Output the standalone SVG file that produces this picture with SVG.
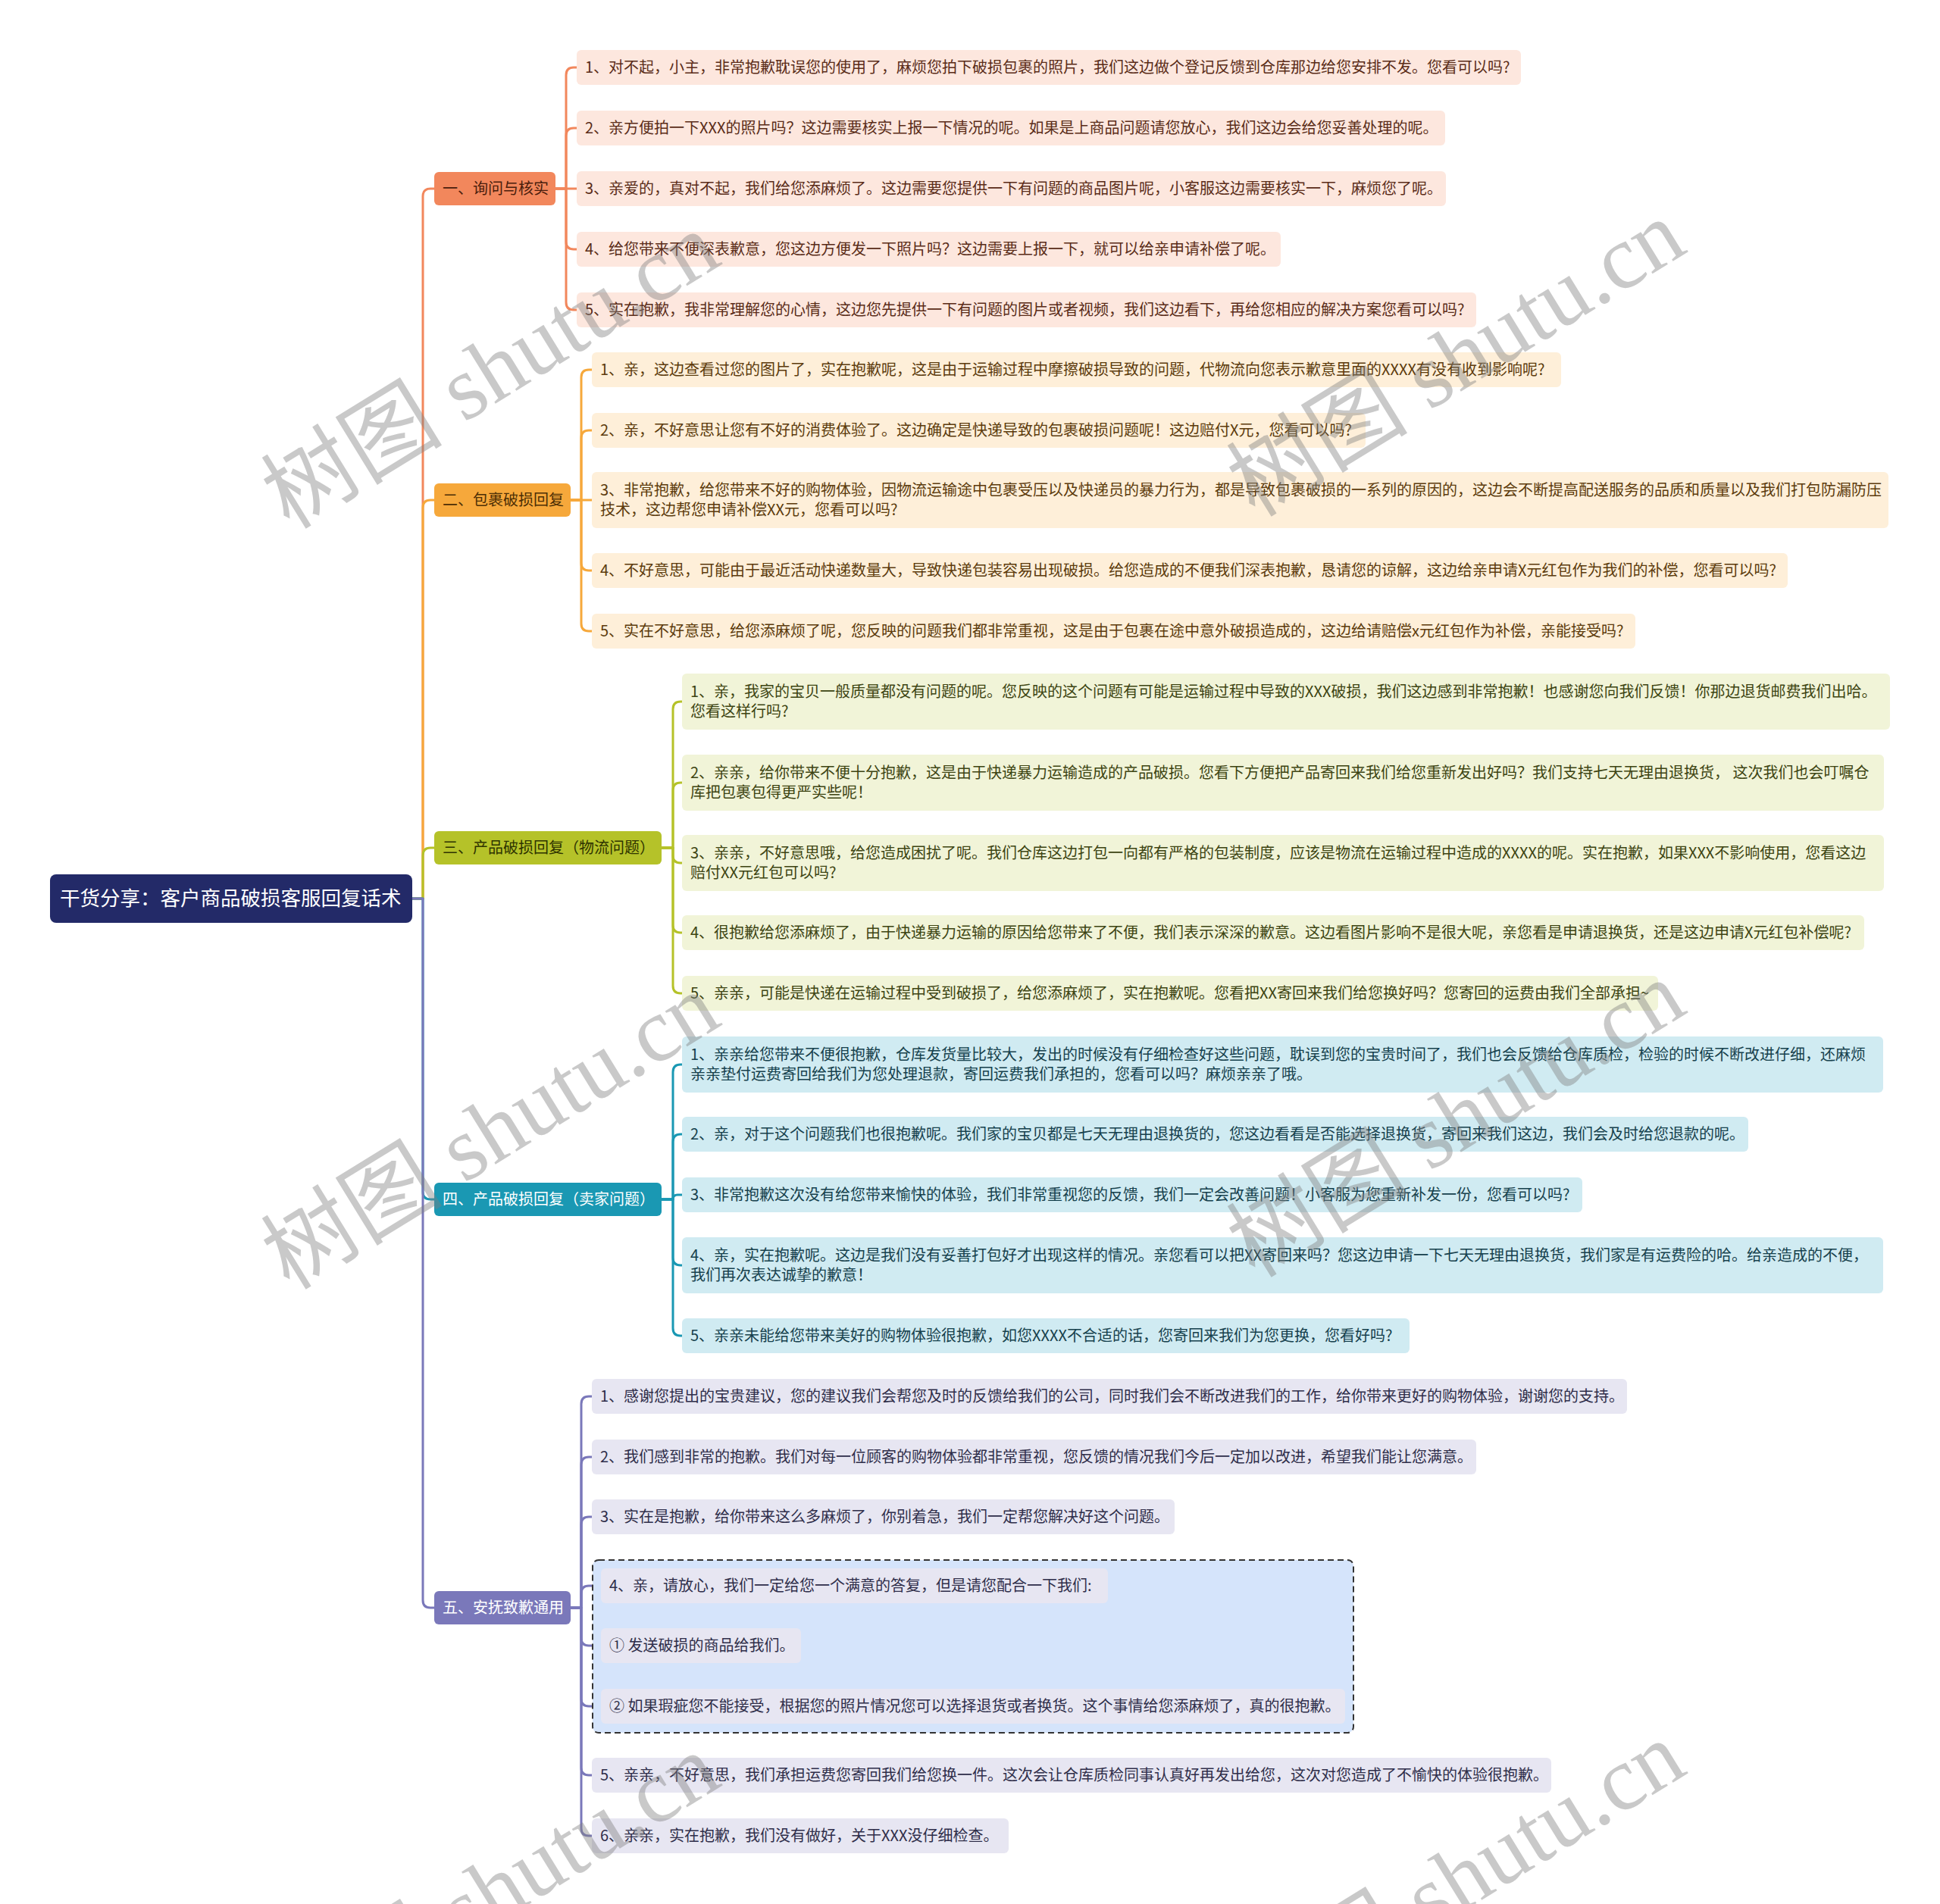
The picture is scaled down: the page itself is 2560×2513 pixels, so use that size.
<svg xmlns="http://www.w3.org/2000/svg" width="2560" height="2513" viewBox="0 0 2560 2513">
<style>
text{font-family:"Noto Sans CJK SC","Noto Sans",sans-serif;font-size:20px}
.bg{fill:#ffffff}
.root rect{fill:#232a68}
.root text{fill:#ffffff;font-size:26.5px}
.b1 rect{fill:#f2875c}.b1 text{fill:#4a1d0c}
.b2 rect{fill:#f6a83b}.b2 text{fill:#4d2f05}
.b3 rect{fill:#b5c229}.b3 text{fill:#2e3300}
.b4 rect{fill:#1a98b3}.b4 text{fill:#ffffff}
.b5 rect{fill:#7a78ba}.b5 text{fill:#ffffff}
.l1 rect{fill:#fde7de}.l1 text{fill:#5a2c18}
.l2 rect{fill:#feefd9}.l2 text{fill:#5c3b0c}
.l3 rect{fill:#f1f4d8}.l3 text{fill:#3d4412}
.l4 rect{fill:#d0ebf2}.l4 text{fill:#16414d}
.l5 rect{fill:#e7e6f2}.l5 text{fill:#2f2e4a}
.grp{fill:#d5e4fb;stroke:#333333;stroke-width:2;stroke-dasharray:8 5}
.conn path{fill:none;stroke-width:3;stroke-linecap:round;stroke-linejoin:round}
.c1{stroke:#f2875c}.c2{stroke:#f6a83b}.c3{stroke:#b5c229}.c4{stroke:#1a98b3}.c5{stroke:#7a78ba}
.wm text{font-family:"Liberation Serif","Noto Sans CJK SC",serif;font-size:120px;fill:#808080;opacity:0.42}
</style>
<rect class="bg" x="0" y="0" width="2560" height="2513"/>

<g id="connectors" class="conn">
  <path class="c1" d="M544,1186 H558 V259 Q558,249 568,249 H573"/>
  <path class="c2" d="M544,1186 H558 V670 Q558,660 568,660 H573"/>
  <path class="c3" d="M544,1186 H558 V1129 Q558,1119 568,1119 H573"/>
  <path class="c4" d="M544,1186 H558 V1573 Q558,1583 568,1583 H573"/>
  <path class="c5" d="M544,1186 H558 V2112 Q558,2122 568,2122 H573"/>

  <path class="c1" d="M733,249 H747 V99 Q747,89 757,89 H761"/>
  <path class="c1" d="M733,249 H747 V179 Q747,169 757,169 H761"/>
  <path class="c1" d="M733,249 H761"/>
  <path class="c1" d="M733,249 H747 V319 Q747,329 757,329 H761"/>
  <path class="c1" d="M733,249 H747 V399 Q747,409 757,409 H761"/>

  <path class="c2" d="M753,660 H767 V498 Q767,488 777,488 H781"/>
  <path class="c2" d="M753,660 H767 V578 Q767,568 777,568 H781"/>
  <path class="c2" d="M753,660 H781"/>
  <path class="c2" d="M753,660 H767 V743 Q767,753 777,753 H781"/>
  <path class="c2" d="M753,660 H767 V823 Q767,833 777,833 H781"/>

  <path class="c3" d="M873,1119 H888 V936 Q888,926 898,926 H900"/>
  <path class="c3" d="M873,1119 H888 V1043 Q888,1033 898,1033 H900"/>
  <path class="c3" d="M873,1119 H888 V1129 Q888,1139 898,1139 H900"/>
  <path class="c3" d="M873,1119 H888 V1221 Q888,1231 898,1231 H900"/>
  <path class="c3" d="M873,1119 H888 V1301 Q888,1311 898,1311 H900"/>

  <path class="c4" d="M873,1583 H888 V1415 Q888,1405 898,1405 H900"/>
  <path class="c4" d="M873,1583 H888 V1507 Q888,1497 898,1497 H900"/>
  <path class="c4" d="M873,1583 H888 Q888,1577 894,1577 H900"/>
  <path class="c4" d="M873,1583 H888 V1660 Q888,1670 898,1670 H900"/>
  <path class="c4" d="M873,1583 H888 V1753 Q888,1763 898,1763 H900"/>

  <path class="c5" d="M753,2122 H767 V1853 Q767,1843 777,1843 H781"/>
  <path class="c5" d="M753,2122 H767 V1933 Q767,1923 777,1923 H781"/>
  <path class="c5" d="M753,2122 H767 V2012 Q767,2002 777,2002 H781"/>
  <path class="c5" d="M753,2122 H767 V2103 Q767,2093 777,2093 H793"/>
  <path class="c5" d="M753,2122 H767 V2162 Q767,2172 777,2172 H793"/>
  <path class="c5" d="M753,2122 H767 V2242 Q767,2252 777,2252 H793"/>
  <path class="c5" d="M753,2122 H767 V2333 Q767,2343 777,2343 H781"/>
  <path class="c5" d="M753,2122 H767 V2413 Q767,2423 777,2423 H781"/>
</g>

<g id="root" class="root">
  <rect x="66" y="1154" width="478" height="64" rx="8"/>
  <text x="79" y="1195">干货分享：客户商品破损客服回复话术</text>
</g>

<g id="branch1" class="b1">
  <rect x="573" y="227" width="160" height="44" rx="6"/>
  <text x="584" y="256">一、询问与核实</text>
</g>
<g id="branch2" class="b2">
  <rect x="573" y="638" width="180" height="44" rx="6"/>
  <text x="584" y="667">二、包裹破损回复</text>
</g>
<g id="branch3" class="b3">
  <rect x="573" y="1097" width="300" height="44" rx="6"/>
  <text x="584" y="1126">三、产品破损回复（物流问题）</text>
</g>
<g id="branch4" class="b4">
  <rect x="573" y="1561" width="300" height="44" rx="6"/>
  <text x="584" y="1590">四、产品破损回复（卖家问题）</text>
</g>
<g id="branch5" class="b5">
  <rect x="573" y="2100" width="180" height="44" rx="6"/>
  <text x="584" y="2129">五、安抚致歉通用</text>
</g>

<g id="leaf1-1" class="l1"><rect x="761" y="66" width="1246" height="46" rx="6"/><text x="772" y="96">1、对不起，小主，非常抱歉耽误您的使用了，麻烦您拍下破损包裹的照片，我们这边做个登记反馈到仓库那边给您安排不发。您看可以吗?</text></g>
<g id="leaf1-2" class="l1"><rect x="761" y="146" width="1146" height="46" rx="6"/><text x="772" y="176">2、亲方便拍一下XXX的照片吗？这边需要核实上报一下情况的呢。如果是上商品问题请您放心，我们这边会给您妥善处理的呢。</text></g>
<g id="leaf1-3" class="l1"><rect x="761" y="226" width="1147" height="46" rx="6"/><text x="772" y="256">3、亲爱的，真对不起，我们给您添麻烦了。这边需要您提供一下有问题的商品图片呢，小客服这边需要核实一下，麻烦您了呢。</text></g>
<g id="leaf1-4" class="l1"><rect x="761" y="306" width="929" height="46" rx="6"/><text x="772" y="336">4、给您带来不便深表歉意，您这边方便发一下照片吗？这边需要上报一下，就可以给亲申请补偿了呢。</text></g>
<g id="leaf1-5" class="l1"><rect x="761" y="386" width="1187" height="46" rx="6"/><text x="772" y="416">5、实在抱歉，我非常理解您的心情，这边您先提供一下有问题的图片或者视频，我们这边看下，再给您相应的解决方案您看可以吗?</text></g>

<g id="leaf2-1" class="l2"><rect x="781" y="465" width="1279" height="46" rx="6"/><text x="792" y="495">1、亲，这边查看过您的图片了，实在抱歉呢，这是由于运输过程中摩擦破损导致的问题，代物流向您表示歉意里面的XXXX有没有收到影响呢?</text></g>
<g id="leaf2-2" class="l2"><rect x="781" y="545" width="1021" height="46" rx="6"/><text x="792" y="575">2、亲，不好意思让您有不好的消费体验了。这边确定是快递导致的包裹破损问题呢！这边赔付X元，您看可以吗?</text></g>
<g id="leaf2-3" class="l2"><rect x="781" y="623" width="1711" height="74" rx="6"/><text x="792" y="654">3、非常抱歉，给您带来不好的购物体验，因物流运输途中包裹受压以及快递员的暴力行为，都是导致包裹破损的一系列的原因的，这边会不断提高配送服务的品质和质量以及我们打包防漏防压</text><text x="792" y="680">技术，这边帮您申请补偿XX元，您看可以吗?</text></g>
<g id="leaf2-4" class="l2"><rect x="781" y="730" width="1578" height="46" rx="6"/><text x="792" y="760">4、不好意思，可能由于最近活动快递数量大，导致快递包装容易出现破损。给您造成的不便我们深表抱歉，恳请您的谅解，这边给亲申请X元红包作为我们的补偿，您看可以吗?</text></g>
<g id="leaf2-5" class="l2"><rect x="781" y="810" width="1377" height="46" rx="6"/><text x="792" y="840">5、实在不好意思，给您添麻烦了呢，您反映的问题我们都非常重视，这是由于包裹在途中意外破损造成的，这边给请赔偿x元红包作为补偿，亲能接受吗?</text></g>

<g id="leaf3-1" class="l3"><rect x="900" y="889" width="1594" height="74" rx="6"/><text x="911" y="920">1、亲，我家的宝贝一般质量都没有问题的呢。您反映的这个问题有可能是运输过程中导致的XXX破损，我们这边感到非常抱歉！也感谢您向我们反馈！你那边退货邮费我们出哈。</text><text x="911" y="946">您看这样行吗?</text></g>
<g id="leaf3-2" class="l3"><rect x="900" y="996" width="1586" height="74" rx="6"/><text x="911" y="1027">2、亲亲，给你带来不便十分抱歉，这是由于快递暴力运输造成的产品破损。您看下方便把产品寄回来我们给您重新发出好吗？我们支持七天无理由退换货， 这次我们也会叮嘱仓</text><text x="911" y="1053">库把包裹包得更严实些呢！</text></g>
<g id="leaf3-3" class="l3"><rect x="900" y="1102" width="1586" height="74" rx="6"/><text x="911" y="1133">3、亲亲，不好意思哦，给您造成困扰了呢。我们仓库这边打包一向都有严格的包装制度，应该是物流在运输过程中造成的XXXX的呢。实在抱歉，如果XXX不影响使用，您看这边</text><text x="911" y="1159">赔付XX元红包可以吗?</text></g>
<g id="leaf3-4" class="l3"><rect x="900" y="1208" width="1560" height="46" rx="6"/><text x="911" y="1238">4、很抱歉给您添麻烦了，由于快递暴力运输的原因给您带来了不便，我们表示深深的歉意。这边看图片影响不是很大呢，亲您看是申请退换货，还是这边申请X元红包补偿呢?</text></g>
<g id="leaf3-5" class="l3"><rect x="900" y="1288" width="1288" height="46" rx="6"/><text x="911" y="1318">5、亲亲，可能是快递在运输过程中受到破损了，给您添麻烦了，实在抱歉呢。您看把XX寄回来我们给您换好吗？您寄回的运费由我们全部承担~</text></g>

<g id="leaf4-1" class="l4"><rect x="900" y="1368" width="1585" height="74" rx="6"/><text x="911" y="1399">1、亲亲给您带来不便很抱歉，仓库发货量比较大，发出的时候没有仔细检查好这些问题，耽误到您的宝贵时间了，我们也会反馈给仓库质检，检验的时候不断改进仔细，还麻烦</text><text x="911" y="1425">亲亲垫付运费寄回给我们为您处理退款，寄回运费我们承担的，您看可以吗？麻烦亲亲了哦。</text></g>
<g id="leaf4-2" class="l4"><rect x="900" y="1474" width="1407" height="46" rx="6"/><text x="911" y="1504">2、亲，对于这个问题我们也很抱歉呢。我们家的宝贝都是七天无理由退换货的，您这边看看是否能选择退换货，寄回来我们这边，我们会及时给您退款的呢。</text></g>
<g id="leaf4-3" class="l4"><rect x="900" y="1554" width="1188" height="46" rx="6"/><text x="911" y="1584">3、非常抱歉这次没有给您带来愉快的体验，我们非常重视您的反馈，我们一定会改善问题！小客服为您重新补发一份，您看可以吗?</text></g>
<g id="leaf4-4" class="l4"><rect x="900" y="1633" width="1585" height="74" rx="6"/><text x="911" y="1664">4、亲，实在抱歉呢。这边是我们没有妥善打包好才出现这样的情况。亲您看可以把XX寄回来吗？您这边申请一下七天无理由退换货，我们家是有运费险的哈。给亲造成的不便，</text><text x="911" y="1690">我们再次表达诚挚的歉意！</text></g>
<g id="leaf4-5" class="l4"><rect x="900" y="1740" width="960" height="46" rx="6"/><text x="911" y="1770">5、亲亲未能给您带来美好的购物体验很抱歉，如您XXXX不合适的话，您寄回来我们为您更换，您看好吗?</text></g>

<g id="leaf5-1" class="l5"><rect x="781" y="1820" width="1366" height="46" rx="6"/><text x="792" y="1850">1、感谢您提出的宝贵建议，您的建议我们会帮您及时的反馈给我们的公司，同时我们会不断改进我们的工作，给你带来更好的购物体验，谢谢您的支持。</text></g>
<g id="leaf5-2" class="l5"><rect x="781" y="1900" width="1167" height="46" rx="6"/><text x="792" y="1930">2、我们感到非常的抱歉。我们对每一位顾客的购物体验都非常重视，您反馈的情况我们今后一定加以改进，希望我们能让您满意。</text></g>
<g id="leaf5-3" class="l5"><rect x="781" y="1979" width="769" height="46" rx="6"/><text x="792" y="2009">3、实在是抱歉，给你带来这么多麻烦了，你别着急，我们一定帮您解决好这个问题。</text></g>
<g id="group5-4">
  <rect class="grp" x="782" y="2059" width="1004" height="228" rx="8"/>
  <g id="leaf5-4a" class="l5"><rect x="793" y="2070" width="669" height="46" rx="6"/><text x="804" y="2100">4、亲，请放心，我们一定给您一个满意的答复，但是请您配合一下我们:</text></g>
  <g id="leaf5-4b" class="l5"><rect x="793" y="2149" width="264" height="46" rx="6"/><text x="804" y="2179">① 发送破损的商品给我们。</text></g>
  <g id="leaf5-4c" class="l5"><rect x="793" y="2229" width="982" height="46" rx="6"/><text x="804" y="2259">② 如果瑕疵您不能接受，根据您的照片情况您可以选择退货或者换货。这个事情给您添麻烦了，真的很抱歉。</text></g>
</g>
<g id="leaf5-5" class="l5"><rect x="781" y="2320" width="1266" height="46" rx="6"/><text x="792" y="2350">5、亲亲，不好意思，我们承担运费您寄回我们给您换一件。这次会让仓库质检同事认真好再发出给您，这次对您造成了不愉快的体验很抱歉。</text></g>
<g id="leaf5-6" class="l5"><rect x="781" y="2400" width="550" height="46" rx="6"/><text x="792" y="2430">6、亲亲，实在抱歉，我们没有做好，关于XXX没仔细检查。</text></g>

<g id="watermarks" class="wm">
  <text transform="translate(382,700) rotate(-31.6)">树图 shutu.cn</text>
  <text transform="translate(1656,684) rotate(-31.6)">树图 shutu.cn</text>
  <text transform="translate(382,1704) rotate(-31.6)">树图 shutu.cn</text>
  <text transform="translate(1656,1688) rotate(-31.6)">树图 shutu.cn</text>
  <text transform="translate(382,2708) rotate(-31.6)">树图 shutu.cn</text>
  <text transform="translate(1656,2692) rotate(-31.6)">树图 shutu.cn</text>
</g>
</svg>
